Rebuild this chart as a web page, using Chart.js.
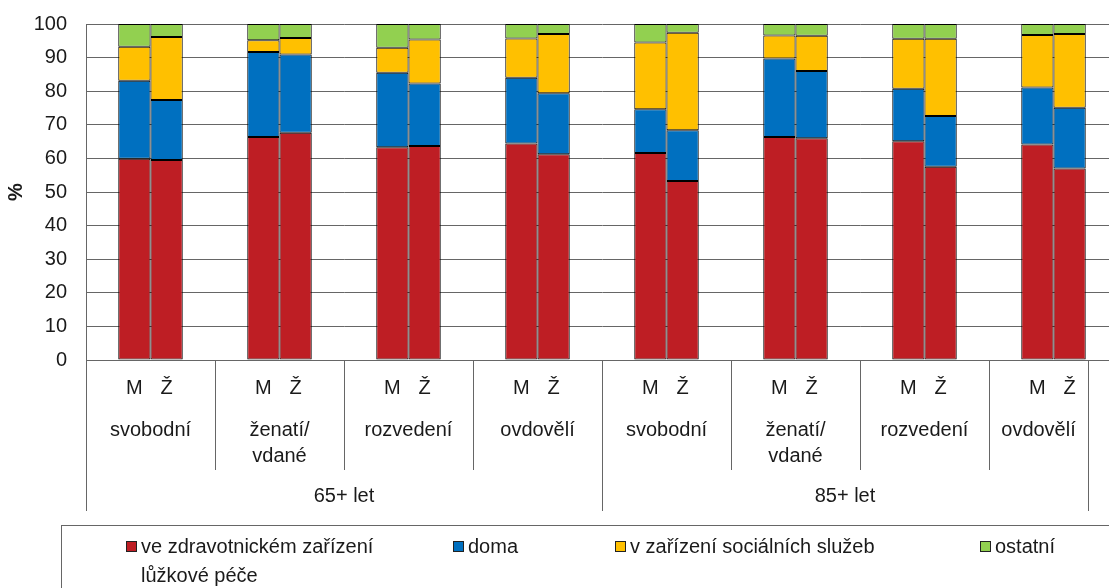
<!DOCTYPE html>
<html>
<head>
<meta charset="utf-8">
<script src="https://cdn.jsdelivr.net/npm/chart.js@4"></script>
<style>
  html, body { margin: 0; padding: 0; background: #fff; overflow: hidden; }
  #obal { position: relative; width: 1120px; height: 588px; }
</style>
</head>
<body>
<div id="obal"><canvas id="graf"></canvas></div>
<script>
// kategorie (rodinny stav) a vekove skupiny
const stavy = ['svobodní', 'ženatí/\nvdané', 'rozvedení', 'ovdovělí', 'svobodní', 'ženatí/\nvdané', 'rozvedení', 'ovdovělí'];
const vek = ['65+ let', '85+ let'];
const pohlavi = ['M', 'Ž'];
const mista = ['ve zdravotnickém zařízení lůžkové péče', 'doma', 'v zařízení sociálních služeb', 'ostatní'];
const mistaRadky = [['ve zdravotnickém zařízení', 'lůžkové péče'], ['doma'], ['v zařízení sociálních služeb'], ['ostatní']];
const barvy = ['#BE1E24', '#0070C0', '#FFC000', '#92D050'];
const osaY = [0, 10, 20, 30, 40, 50, 60, 70, 80, 90, 100];

// hodnoty v %
const zdravotnickeM = [59.9, 66.4, 63.3, 64.4, 61.6, 66.4, 65.1, 64.1];
const zdravotnickeZ = [59.5, 67.6, 63.7, 61.2, 53.3, 66.0, 57.5, 57.0];
const domaM = [23.2, 25.3, 22.2, 19.6, 13.0, 23.3, 15.6, 17.0];
const domaZ = [17.9, 23.3, 18.6, 18.2, 15.1, 20.0, 15.1, 18.1];
const socialniM = [10.1, 3.5, 7.4, 11.7, 19.9, 6.9, 14.9, 15.6];
const socialniZ = [18.7, 4.9, 13.1, 17.6, 29.0, 10.5, 23.0, 21.9];
const ostatniM = [6.8, 4.8, 7.1, 4.3, 5.5, 3.4, 4.4, 3.3];
const ostatniZ = [3.9, 4.2, 4.6, 3.0, 2.6, 3.5, 4.4, 3.0];

const hodnoty = [
  [zdravotnickeM, zdravotnickeZ],
  [domaM, domaZ],
  [socialniM, socialniZ],
  [ostatniM, ostatniZ]
];

const PISMO = '"Liberation Sans", Arial, sans-serif';
const TEXT = '#1a1a1a';
const CARA = '#666';
const KONEC_OSY = 1088;

const datasets = [];
mista.forEach((m, p) => {
  pohlavi.forEach((s, k) => {
    datasets.push({
      label: m,
      stack: s,
      data: hodnoty[p][k],
      backgroundColor: barvy[p],
      borderColor: '#000',
      borderWidth: 1,
      borderSkipped: false,
      inflateAmount: 0
    });
  });
});

const popisky = {
  id: 'popisky',
  afterDraw(chart) {
    const ctx = chart.ctx;
    const x = chart.scales.x;
    const y0 = chart.chartArea.bottom;
    ctx.save();
    ctx.strokeStyle = CARA;
    ctx.lineWidth = 1;
    ctx.font = '20px ' + PISMO;
    ctx.fillStyle = TEXT;
    ctx.textAlign = 'center';
    ctx.textBaseline = 'middle';

    const hranice = [];
    for (let i = 0; i <= stavy.length; i++) {
      hranice.push(Math.min(x.getPixelForValue(i - 0.5), KONEC_OSY));
    }
    hranice.forEach((hx, i) => {
      const dlouha = i % 4 === 0;
      const px = Math.round(hx) + 0.5;
      ctx.beginPath();
      ctx.moveTo(px, y0);
      ctx.lineTo(px, dlouha ? 511 : 470);
      ctx.stroke();
    });

    // M / Ž pod sloupci
    pohlavi.forEach((s, k) => {
      chart.getDatasetMeta(k).data.forEach(bar => {
        ctx.fillText(s, bar.x, 388);
      });
    });

    // rodinny stav
    stavy.forEach((st, i) => {
      const cx = (hranice[i] + hranice[i + 1]) / 2;
      st.split('\n').forEach((r, j) => ctx.fillText(r, cx, 430 + j * 26));
    });

    // vekove skupiny
    vek.forEach((v, j) => {
      const cx = (hranice[j * 4] + hranice[j * 4 + 4]) / 2;
      ctx.fillText(v, cx, 496);
    });

    // legenda
    ctx.strokeRect(61.5, 525.5, 1200, 100);
    const legX = [126, 453, 615, 980];
    ctx.textAlign = 'left';
    ctx.textBaseline = 'alphabetic';
    mistaRadky.forEach((radky, p) => {
      ctx.fillStyle = barvy[p];
      ctx.fillRect(legX[p], 541, 11, 11);
      ctx.strokeStyle = '#222';
      ctx.strokeRect(legX[p] + 0.5, 541.5, 10, 10);
      ctx.fillStyle = TEXT;
      radky.forEach((r, j) => ctx.fillText(r, legX[p] + 15, 553 + j * 29));
    });
    ctx.restore();
  }
};

new Chart(document.getElementById('graf'), {
  type: 'bar',
  data: {
    labels: stavy.map((s, i) => vek[Math.floor(i / 4)] + ' ' + s.replace('\n', ' ')),
    datasets
  },
  options: {
    responsive: true,
    maintainAspectRatio: false,
    animation: false,
    categoryPercentage: 0.5,
    barPercentage: 1.0,
    layout: { padding: { top: 24, right: 2, bottom: 228, left: 0 } },
    scales: {
      x: { display: false, stacked: true },
      y: {
        stacked: true,
        min: 0,
        max: 100,
        afterBuildTicks: s => { s.ticks = osaY.map(v => ({ value: v })); },
        afterFit: s => { s.width = 86; s.paddingTop = 0; s.paddingBottom = 0; },
        ticks: { padding: 19, color: TEXT, font: { family: PISMO, size: 20 } },
        grid: { color: CARA, lineWidth: 1, drawTicks: false },
        border: { color: CARA },
        title: {
          display: true,
          text: '%',
          color: TEXT,
          font: { family: PISMO, size: 20, weight: 'bold' },
          padding: { top: 4, bottom: 0 }
        }
      }
    },
    plugins: {
      legend: { display: false },
      tooltip: { enabled: false }
    }
  },
  plugins: [popisky]
});
</script>
</body>
</html>
